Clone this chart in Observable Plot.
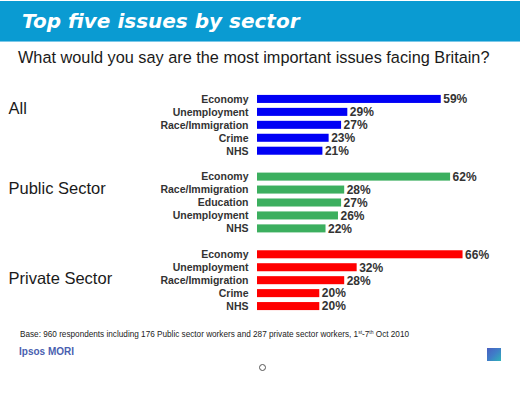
<!DOCTYPE html>
<html>
<head>
<meta charset="utf-8">
<script src="https://cdn.jsdelivr.net/npm/d3@7"></script>
<script src="https://cdn.jsdelivr.net/npm/@observablehq/plot@0.6"></script>
<style>
  html, body { margin:0; padding:0; background:#fff; }
  #page { position:relative; width:520px; height:395px; overflow:hidden; font-family: Arial, "Liberation Sans", sans-serif; }
  #header { position:absolute; left:0; top:1px; width:520px; height:40px; background:#0a9bd2; border-bottom:1px solid #7cc8e8; }
  #title { position:absolute; left:22px; top:8px; color:#fff; font-family:"DejaVu Sans", sans-serif; font-weight:bold; font-style:italic; font-size:20px; white-space:nowrap; }
  #subtitle { position:absolute; left:18px; top:48px; color:#1a1a1a; font-size:16.3px; white-space:nowrap; }
  #chart { position:absolute; left:0; top:80px; }
  #base { position:absolute; left:20px; top:330px; font-size:8.2px; color:#222; white-space:nowrap; }
  #base sup { font-size:5px; vertical-align:top; position:relative; top:-1px; }
  #logo { position:absolute; left:19px; top:346px; font-size:10px; font-weight:bold; color:#4a5fb0; white-space:nowrap; }
  #icon { position:absolute; left:487px; top:348px; width:14px; height:13px; background:linear-gradient(135deg,#4a5fc0 0%,#3f7ec8 50%,#2fb3b8 100%); }
  #dot { position:absolute; left:259px; top:364px; width:5px; height:5px; border:1px solid #555; border-radius:50%; background:#fff; }
</style>
</head>
<body>
<div id="page">
  <div id="header"><div id="title">Top five issues by sector</div></div>
  <div id="subtitle">What would you say are the most important issues facing Britain?</div>
  <div id="chart"></div>
  <div id="base">Base: 960 respondents including 176 Public sector workers and 287 private sector workers, 1<sup>st</sup>-7<sup>th</sup> Oct 2010</div>
  <div id="logo">Ipsos MORI</div>
  <div id="icon"></div>
  <div id="dot"></div>
</div>
<script>
const groups = ["All", "Public Sector", "Private Sector"];
const allIssues = ["Economy", "Unemployment", "Race/Immigration", "Crime", "NHS"];
const allValues = [59, 29, 27, 23, 21];
const publicIssues = ["Economy", "Race/Immigration", "Education", "Unemployment", "NHS"];
const publicValues = [62, 28, 27, 26, 22];
const privateIssues = ["Economy", "Unemployment", "Race/Immigration", "Crime", "NHS"];
const privateValues = [66, 32, 28, 20, 20];
const groupColors = ["#0000f5", "#3caf5f", "#ff0000"];

const issueLists = [allIssues, publicIssues, privateIssues];
const valueLists = [allValues, publicValues, privateValues];

const rows = [];
const domain = [];
groups.forEach((g, gi) => {
  if (gi > 0) domain.push("gap" + gi);
  issueLists[gi].forEach((issue, i) => {
    const key = g + "|" + issue;
    domain.push(key);
    rows.push({group: g, gi, issue, value: valueLists[gi][i], key});
  });
});

const keyOf = (gi, rank) => groups[gi] + "|" + issueLists[gi][rank];
const groupLabel = (gi, rank, dy) => Plot.text([groups[gi]], {
  y: () => keyOf(gi, rank), text: d => d, frameAnchor: "left", textAnchor: "start",
  dx: -249, dy, fontSize: 16.5, fill: "#1a1a1a"
});

const chart = Plot.plot({
  width: 520, height: 240,
  marginTop: 10, marginBottom: 5, marginLeft: 257, marginRight: 45,
  style: {fontFamily: "Arial, 'Liberation Sans', sans-serif", background: "transparent"},
  x: {domain: [0, 70], axis: null},
  y: {domain, padding: 0.38, round: false, axis: null},
  marks: [
    Plot.barX(rows, {x: "value", y: "key", fill: d => groupColors[d.gi]}),
    Plot.text(rows, {x: "value", y: "key", text: d => d.value + "%", textAnchor: "start", dx: 2,
      fontSize: 12, fontWeight: "bold", fill: "#333"}),
    Plot.text(rows, {y: "key", text: "issue", frameAnchor: "left", textAnchor: "end", dx: -9,
      fontSize: 10.5, fontWeight: "bold", fill: "#333"}),
    groupLabel(0, 1, -4),
    groupLabel(1, 1, -1),
    groupLabel(2, 2, -1.5)
  ]
});
document.getElementById("chart").appendChild(chart);
</script>
</body>
</html>
